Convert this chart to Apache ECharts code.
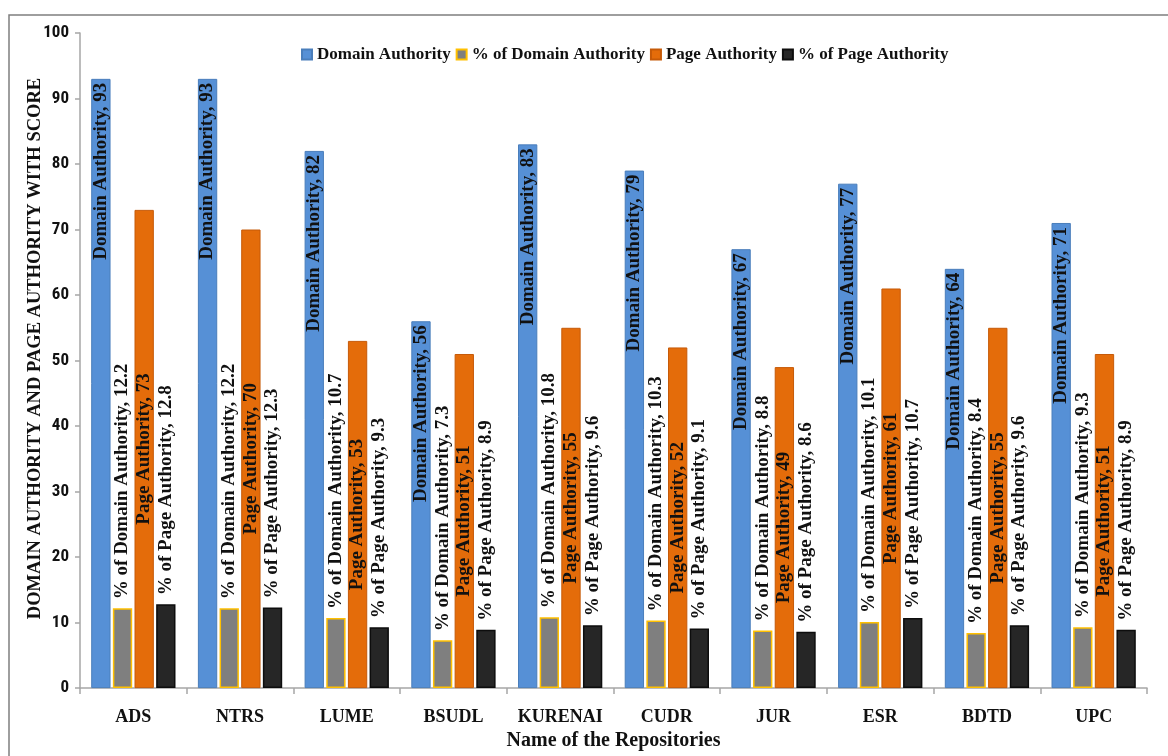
<!DOCTYPE html>
<html>
<head>
<meta charset="utf-8">
<title>Domain Authority and Page Authority</title>
<script src="https://cdn.jsdelivr.net/npm/echarts@6/dist/echarts.min.js"></script>
<style>
  html, body { margin: 0; padding: 0; background: #fff; }
  #chart { width: 1168px; height: 756px; }
</style>
</head>
<body>
<div id="chart"></div>
<script>
const repositories = ['ADS', 'NTRS', 'LUME', 'BSUDL', 'KURENAI', 'CUDR', 'JUR', 'ESR', 'BDTD', 'UPC'];
const domainAuthority = [93, 93, 82, 56, 83, 79, 67, 77, 64, 71];
const pctDomainAuthority = [12.2, 12.2, 10.7, 7.3, 10.8, 10.3, 8.8, 10.1, 8.4, 9.3];
const pageAuthority = [73, 70, 53, 51, 55, 52, 49, 61, 55, 51];
const pctPageAuthority = [12.8, 12.3, 9.3, 8.9, 9.6, 9.1, 8.6, 10.7, 9.6, 8.9];
const yTicks = [0, 10, 20, 30, 40, 50, 60, 70, 80, 90, 100];

const serif = '"Liberation Serif", "Times New Roman", serif';
const narrow = '"Liberation Sans Narrow", "Roboto Condensed", "DejaVu Sans Condensed", sans-serif';

function barLabel(name, position, align, distance) {
  return {
    show: true,
    position: position,
    rotate: 90,
    align: align,
    verticalAlign: 'middle',
    distance: distance,
    fontFamily: serif,
    fontWeight: 'bold',
    fontSize: 19,
    color: '#111',
    formatter: function (p) { return name + ', ' + p.value; }
  };
}

const chart = echarts.init(document.getElementById('chart'));
const option = {
  animation: false,
  backgroundColor: '#fff',
  graphic: [{
    type: 'rect',
    shape: { x: 9, y: 15, width: 1300, height: 900 },
    style: { fill: 'none', stroke: '#7f7f7f', lineWidth: 1.5 },
    silent: true
  }],
  legend: {
    top: 41,
    left: 296,
    icon: 'rect',
    itemWidth: 10,
    itemHeight: 10,
    itemGap: 5,
    textStyle: { fontFamily: serif, fontWeight: 'bold', fontSize: 17, color: '#111' }
  },
  grid: { left: 80, right: 21, top: 33, bottom: 63 },
  xAxis: {
    type: 'category',
    data: repositories,
    name: 'Name of the Repositories',
    nameLocation: 'middle',
    nameGap: 38,
    nameTextStyle: { fontFamily: serif, fontWeight: 'bold', fontSize: 20, color: '#111' },
    axisLine: { lineStyle: { color: '#a6a6a6', width: 1.5 } },
    axisTick: { show: true, length: 6, lineStyle: { color: '#a6a6a6', width: 1.5 } },
    axisLabel: { interval: 0, margin: 20, fontFamily: serif, fontWeight: 'bold', fontSize: 18, color: '#111' }
  },
  yAxis: {
    type: 'value',
    min: yTicks[0],
    max: yTicks[yTicks.length - 1],
    interval: 10,
    name: 'DOMAIN AUTHORITY AND PAGE AUTHORITY WITH SCORE',
    nameLocation: 'middle',
    nameGap: 35,
    nameMoveOverlap: false,
    nameTextStyle: { fontFamily: serif, fontWeight: 'bold', fontSize: 18.5, color: '#111', padding: [0, 0, 0, 24] },
    splitLine: { show: false },
    axisLine: { show: true, lineStyle: { color: '#a6a6a6', width: 1.5 } },
    axisTick: { show: true, length: 5, lineStyle: { color: '#a6a6a6', width: 1.5 } },
    axisLabel: { margin: 11, fontFamily: narrow, fontWeight: 'bold', fontSize: 17, color: '#111' }
  },
  series: [
    {
      name: 'Domain Authority',
      type: 'bar',
      data: domainAuthority,
      barGap: '12%',
      barCategoryGap: '21%',
      itemStyle: { color: '#5690D6', borderColor: '#4A7EBB', borderWidth: 1 },
      label: barLabel('Domain Authority', 'insideTop', 'right', 4)
    },
    {
      name: '% of Domain Authority',
      type: 'bar',
      data: pctDomainAuthority,
      itemStyle: { color: '#7F7F7F', borderColor: '#FFC000', borderWidth: 1.5 },
      label: barLabel('% of Domain Authority', 'top', 'left', 9)
    },
    {
      name: 'Page Authority',
      type: 'bar',
      data: pageAuthority,
      itemStyle: { color: '#E46C0A', borderColor: '#C65A08', borderWidth: 1 },
      label: barLabel('Page Authority', 'inside', 'center', 0)
    },
    {
      name: '% of Page Authority',
      type: 'bar',
      data: pctPageAuthority,
      itemStyle: { color: '#262626', borderColor: '#0D0D0D', borderWidth: 1.5 },
      label: barLabel('% of Page Authority', 'top', 'left', 9)
    }
  ]
};
chart.setOption(option);
</script>
</body>
</html>
